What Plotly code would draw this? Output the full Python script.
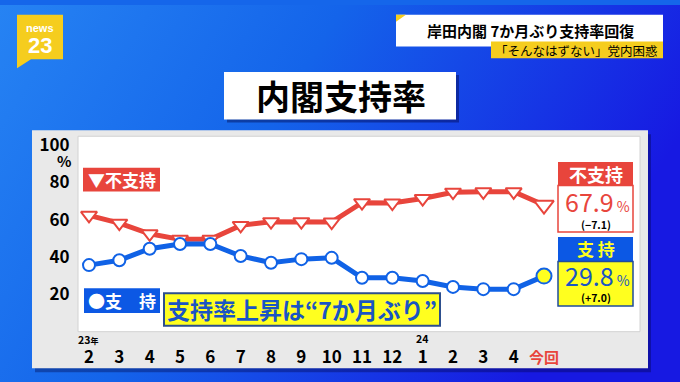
import base64
import plotly.graph_objects as go

# ---------------- data ----------------
months = ["2", "3", "4", "5", "6", "7", "8", "9", "10", "11", "12", "1", "2", "3", "4", "今回"]
disapprove = [62.4, 58.2, 52.5, 49.5, 49.5, 57.0, 59.0, 59.0, 58.8, 69.2, 69.0, 71.4, 74.8, 75.0, 75.0, 67.9]
approve = [35.7, 38.3, 44.5, 47.0, 47.0, 40.6, 37.0, 38.9, 39.6, 28.9, 28.9, 27.2, 24.0, 22.8, 22.8, 29.8]
y_ticks = [20, 40, 60, 80, 100]
latest_dis, diff_dis = 67.9, "−7.1"
latest_app, diff_app = 29.8, "+7.0"

W, H = 680, 382
FONT = "Noto Sans CJK JP"
RED = "#e8453c"
BLUE = "#1062e6"
BOXBLUE = "#0c58e4"
YEL = "#ffff1f"
GOLD = "#f5cd1e"


def px(x):
    return x / W


def py(y):
    return 1 - y / H


def rect(x0, y0, x1, y1, fill, line=None, lw=0):
    return dict(type="rect", xref="paper", yref="paper", layer="below",
                x0=px(x0), x1=px(x1), y0=py(y1), y1=py(y0), fillcolor=fill,
                line=dict(color=line or "rgba(0,0,0,0)", width=lw))


def path(pts, fill):
    d = "M " + " L ".join(f"{px(a):.5f},{py(b):.5f}" for a, b in pts) + " Z"
    return dict(type="path", xref="paper", yref="paper", layer="below", path=d,
                fillcolor=fill, line=dict(width=0))


def ann(x, y, text, size, color="black", bold=True, xanchor="center", family=FONT):
    return dict(x=px(x), y=py(y), xref="paper", yref="paper", text=text, showarrow=False,
                xanchor=xanchor, yanchor="middle",
                font=dict(family=family, size=size, color=color, weight="bold" if bold else "normal"))


x_idx = list(range(len(months)))
tick_text = months[:-1] + [f"<span style='color:{RED};font-size:15px'>{months[-1]}</span>"]

fig = go.Figure()
fig.add_trace(go.Scatter(
    x=x_idx, y=disapprove, mode="lines+markers",
    line=dict(color=RED, width=5),
    marker=dict(symbol="triangle-down", size=[14] * (len(x_idx) - 1) + [17], opacity=1,
                color="white", line=dict(color=RED, width=2)),
    showlegend=False, cliponaxis=False))
fig.add_trace(go.Scatter(
    x=x_idx, y=approve, mode="lines+markers",
    line=dict(color=BLUE, width=5),
    marker=dict(symbol="circle", size=[12] * (len(x_idx) - 1) + [15], opacity=1,
                color=["white"] * (len(x_idx) - 1) + [YEL], line=dict(color=BLUE, width=2)),
    showlegend=False, cliponaxis=False))

# background gradient as svg image
svg = f"""<svg xmlns='http://www.w3.org/2000/svg' width='{W}' height='{H}'>
<defs><linearGradient id='g' x1='0' y1='0' x2='1' y2='0.35'>
<stop offset='0' stop-color='#2683f3'/><stop offset='0.45' stop-color='#1464ea'/>
<stop offset='1' stop-color='#1719e2'/></linearGradient></defs>
<rect width='{W}' height='{H}' fill='url(#g)'/></svg>"""
uri = "data:image/svg+xml;base64," + base64.b64encode(svg.encode()).decode()

shapes = [
    # panel shadow + grey panel + white plot area
    rect(35, 131, 651, 372, "rgba(0,0,60,0.35)"),
    rect(32, 127, 648, 368, "#e9e9e9"),
    rect(78, 133, 640, 331, "white", "#d2d2d2", 1),
    # title box
    rect(227, 71, 459, 119, "rgba(0,0,60,0.4)"),
    rect(224, 68, 456, 116, "white"),
    # headline
    rect(396, 10, 663, 42, "white"),
    path([(396, 10), (406, 10), (396, 17)], GOLD),
    rect(491, 37, 663, 54, GOLD),
    # logo
    path([(17, 10), (63, 10), (63, 55), (31, 55), (17, 64)], GOLD),
    # left legend boxes
    rect(83, 165, 160, 189, RED),
    rect(84, 287, 160, 312, BOXBLUE),
    rect(164, 292, 440, 325, YEL, "#2d4f8e", 2),
    # right value boxes
    rect(558, 159, 633, 183, RED),
    rect(558, 183, 633, 230, "white", RED, 1.5),
    rect(558, 235, 633, 260, BOXBLUE),
    rect(558, 260, 633, 305, YEL, "#1f4c9c", 1.5),
]

annotations = [
    ann(40, 23, "news", 11, "white", family="Liberation Sans"),
    ann(40, 41, "23", 22, "white", family="Liberation Sans"),
    ann(530, 26, "岸田内閣 7か月ぶり支持率回復", 15),
    ann(576, 46, "「そんなはずない」党内困惑", 12.5, bold=False),
    ann(341, 92, "内閣支持率", 34),
    ann(121.5, 177, "▼不支持", 17, "white"),
    ann(122, 299.5, "●支　持", 17, "white"),
    ann(302, 308, "支持率上昇は“7か月ぶり”", 23, "#1a55c4"),
    ann(595.5, 171, "不支持", 18, "white"),
    ann(597, 199, f"{latest_dis}<span style='font-size:14px'> %</span>", 25, RED, bold=False),
    ann(595.5, 222, f"({diff_dis})", 10.5),
    ann(595.5, 247, "支 持", 17, YEL),
    ann(597, 274, f"{latest_app}<span style='font-size:14px'> %</span>", 25, "#1a55c4", bold=False),
    ann(595.5, 296.5, f"({diff_app})", 10.5),
    ann(64, 158, "%", 15),
    ann(88, 339, "23<span style='font-size:8px'>年</span>", 10.5),
    ann(422, 338, "24", 10.5),
]

fig.update_layout(
    width=W, height=H, margin=dict(l=0, r=0, t=0, b=0),
    paper_bgcolor="#1566ea", plot_bgcolor="rgba(0,0,0,0)",
    images=[dict(source=uri, xref="paper", yref="paper", x=0, y=1, sizex=1, sizey=1,
                 sizing="stretch", layer="below", xanchor="left", yanchor="top")],
    shapes=shapes, annotations=annotations,
    xaxis=dict(domain=[px(78), px(640)], range=[-0.363, 18.165], showgrid=False, zeroline=False,
               showline=False, tickmode="array", tickvals=x_idx, ticktext=tick_text,
               ticks="outside", ticklen=10, tickcolor="rgba(0,0,0,0)", fixedrange=True,
               tickfont=dict(family=FONT, size=17, color="black", weight="bold")),
    yaxis=dict(domain=[py(331), py(133)], range=[0, 104.8], showgrid=False, zeroline=False,
               showline=False, tickmode="array", tickvals=y_ticks, ticktext=[str(v) for v in y_ticks],
               ticks="outside", ticklen=4, tickcolor="rgba(0,0,0,0)", fixedrange=True,
               tickfont=dict(family=FONT, size=17, color="black", weight="bold")),
)

fig.write_html("out.html")
